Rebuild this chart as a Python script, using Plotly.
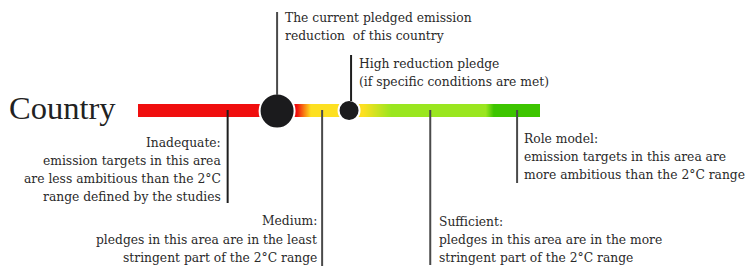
import numpy as np
import plotly.graph_objects as go

# ---------------- data ----------------
# Ambition scale 0..100 along the bar
scale_min, scale_max = 0, 100
stop_pos = [0, 39.5, 41.5, 43, 56, 63, 86.5, 88.5, 100]
stop_colors = ["#F00E0E", "#F00E0E", "#F98A14", "#FDE021", "#FDE021",
               "#9AE61F", "#9AE61F", "#3DC500", "#3DC500"]

marker_names = ["current pledge", "high reduction pledge"]
marker_values = [34.6, 52.5]

category_names = ["Inadequate", "Medium", "Sufficient", "Role model"]
category_values = [22.3, 45.8, 72.7, 94.3]

country_label = "Country"
pledge_text = ["The current pledged emission", "reduction&nbsp; of this country"]
high_text = ["High reduction pledge", "(if specific conditions are met)"]
inadequate_text = ["Inadequate:", "emission targets in this area",
                   "are less ambitious than the 2°C", "range defined by the studies"]
medium_text = ["Medium:", "pledges in this area are in the least",
               "stringent part of the 2°C range"]
sufficient_text = ["Sufficient:", "pledges in this area are in the more",
                   "stringent part of the 2°C range"]
role_text = ["Role model:", "emission targets in this area are",
             "more ambitious than the 2°C range"]

# ---------------- layout helpers ----------------
W, H = 755, 268
BAR_L, BAR_R = 138, 540                 # pixel extent of the bar
PPU = (BAR_R - BAR_L) / (scale_max - scale_min)


def ux(px):
    """pixel x -> scale units"""
    return scale_min + (px - BAR_L) / PPU


fig = go.Figure()

# gradient bar as a one-row heatmap
edges = np.linspace(scale_min, scale_max, 403)
mids = (edges[:-1] + edges[1:]) / 2
cs = [[(p - scale_min) / (scale_max - scale_min), c] for p, c in zip(stop_pos, stop_colors)]
fig.add_trace(go.Heatmap(
    x=edges, y=[104, 117], z=[mids], colorscale=cs, zmin=scale_min, zmax=scale_max,
    showscale=False, hoverinfo="skip"))

line_dark = "#1E1E1E"
line_gray = "#4A4A4A"

# category leader lines
cat_ends = [203, 266, 265, 183]
cat_cols = [line_dark, line_gray, line_gray, line_gray]
for v, yend, col in zip(category_values, cat_ends, cat_cols):
    fig.add_shape(type="line", x0=v, x1=v, y0=110, y1=yend,
                  line=dict(color=col, width=2), layer="above")

# marker leader lines
fig.add_shape(type="line", x0=marker_values[0], x1=marker_values[0], y0=12, y1=95,
              line=dict(color=line_gray, width=2))
fig.add_shape(type="line", x0=marker_values[1] + 0.5, x1=marker_values[1] + 0.5, y0=55, y1=101,
              line=dict(color=line_dark, width=2))

# pledge markers
fig.add_trace(go.Scatter(
    x=marker_values, y=[111, 110.5], mode="markers", text=marker_names, hoverinfo="text",
    marker=dict(size=[35, 21], color="#1B1B1D", opacity=1,
                line=dict(color="white", width=2)),
    showlegend=False))

FONT = "DejaVu Serif"
TXT = "#2A2A2A"
FS = 12.3


def lines(texts, xpx, ys, anchor):
    for t, y in zip(texts, ys):
        fig.add_annotation(x=ux(xpx), y=y, text=t, showarrow=False, xanchor=anchor,
                           yanchor="middle", font=dict(family=FONT, size=FS, color=TXT))


lines(pledge_text, 283, [18, 36], "left")
lines(high_text, 357, [64, 82], "left")
lines(inadequate_text, 223, [143, 161, 179, 197], "right")
lines(medium_text, 319, [221, 240, 258], "right")
lines(sufficient_text, 437, [222, 240, 258], "left")
lines(role_text, 522, [139, 157, 175], "left")

fig.add_annotation(x=ux(118), y=108, text=country_label, showarrow=False, xanchor="right",
                   yanchor="middle", font=dict(family="Liberation Serif", size=32.5, color="#222222"))

fig.update_xaxes(range=[ux(0), ux(W)], visible=False, fixedrange=True)
fig.update_yaxes(range=[H, 0], visible=False, fixedrange=True)
fig.update_layout(width=W, height=H, margin=dict(l=0, r=0, t=0, b=0),
                  paper_bgcolor="white", plot_bgcolor="white", showlegend=False)

fig.write_html("out.html", config={"displayModeBar": False},
               post_script="document.body.style.margin='0';")
